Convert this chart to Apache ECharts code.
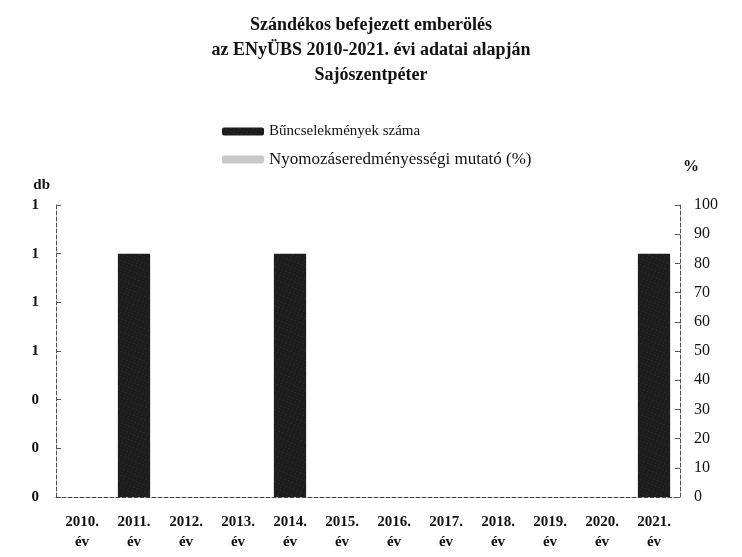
<!DOCTYPE html>
<html>
<head>
<meta charset="utf-8">
<script src="https://cdn.jsdelivr.net/npm/echarts@6/dist/echarts.min.js"></script>
<style>
html,body{margin:0;padding:0;background:#fff;}
#chart{width:742px;height:557px;}
</style>
</head>
<body>
<div id="chart"></div>
<script>
// adatok
var years = ['2010.', '2011.', '2012.', '2013.', '2014.', '2015.', '2016.', '2017.', '2018.', '2019.', '2020.', '2021.'];
var crimeCount = [0, 1, 0, 0, 1, 0, 0, 0, 0, 0, 0, 1];
var detectionRate = [0, 0, 0, 0, 0, 0, 0, 0, 0, 0, 0, 0];
var titleLines = ['Szándékos befejezett emberölés', 'az ENyÜBS 2010-2021. évi adatai alapján', 'Sajószentpéter'];

var serif = '"Liberation Serif", "DejaVu Serif", serif';
var chart = echarts.init(document.getElementById('chart'));

var option = {
    backgroundColor: '#fff',
    animation: false,
    title: {
        text: titleLines.join('\n'),
        left: 'center',
        top: 8,
        textStyle: {
            fontFamily: serif,
            fontSize: 18,
            fontWeight: 'bold',
            color: '#111',
            lineHeight: 25
        }
    },
    legend: {
        orient: 'vertical',
        left: 217,
        top: 119,
        itemGap: 12,
        itemWidth: 42,
        itemHeight: 8,
        textStyle: {fontFamily: serif, fontSize: 15, color: '#111'},
        data: [
            {name: 'Bűncselekmények száma', itemStyle: {color: '#1c1c1c'}},
            {name: 'Nyomozáseredményességi mutató (%)', itemStyle: {color: '#c8c8c8'}, textStyle: {fontSize: 17}}
        ]
    },
    grid: {left: 56, right: 62, top: 205, bottom: 60},
    xAxis: {
        type: 'category',
        data: years,
        axisLine: {lineStyle: {color: '#444', type: 'dashed', width: 1}},
        axisTick: {show: false},
        axisLabel: {
            interval: 0,
            margin: 15,
            fontFamily: serif,
            fontSize: 15,
            fontWeight: 'bold',
            color: '#111',
            lineHeight: 20,
            formatter: function (v) { return v + '\név'; }
        }
    },
    yAxis: [{
        type: 'value',
        name: 'db',
        nameLocation: 'end',
        nameGap: 12,
        nameTextStyle: {fontFamily: serif, fontSize: 15, fontWeight: 'bold', color: '#111', align: 'right', padding: [0, 6, 0, 0]},
        min: 0,
        max: 1.2,
        interval: 0.2,
        axisLine: {show: true, lineStyle: {color: '#555', type: 'dashed'}},
        axisTick: {show: true, inside: true, length: 5, lineStyle: {color: '#555'}},
        splitLine: {show: false},
        axisLabel: {
            margin: 17,
            fontFamily: serif,
            fontSize: 15,
            fontWeight: 'bold',
            color: '#111',
            formatter: function (v) { return v.toFixed(0); }
        }
    }, {
        type: 'value',
        name: '%',
        nameLocation: 'end',
        nameGap: 30,
        nameTextStyle: {fontFamily: serif, fontSize: 16, fontWeight: 'bold', color: '#111', padding: [0, 0, 0, 22]},
        min: 0,
        max: 100,
        interval: 10,
        position: 'right',
        axisLine: {show: true, lineStyle: {color: '#555', type: 'dashed'}},
        axisTick: {show: true, inside: true, length: 5, lineStyle: {color: '#555'}},
        splitLine: {show: false},
        axisLabel: {
            margin: 14,
            fontFamily: serif,
            fontSize: 16,
            color: '#111'
        }
    }],
    series: [{
        name: 'Bűncselekmények száma',
        type: 'bar',
        yAxisIndex: 0,
        data: crimeCount,
        barWidth: '62%',
        barGap: '-100%',
        itemStyle: {
            color: '#1c1c1c',
            decal: {
                symbol: 'rect',
                symbolSize: 0.5,
                dashArrayX: [[1, 3], [2, 2]],
                dashArrayY: [1, 2],
                rotation: 0.4,
                color: 'rgba(255,255,255,0.28)'
            }
        }
    }, {
        name: 'Nyomozáseredményességi mutató (%)',
        type: 'bar',
        yAxisIndex: 1,
        data: detectionRate,
        barWidth: '62%',
        itemStyle: {color: '#c8c8c8'}
    }]
};
chart.setOption(option);
</script>
</body>
</html>
